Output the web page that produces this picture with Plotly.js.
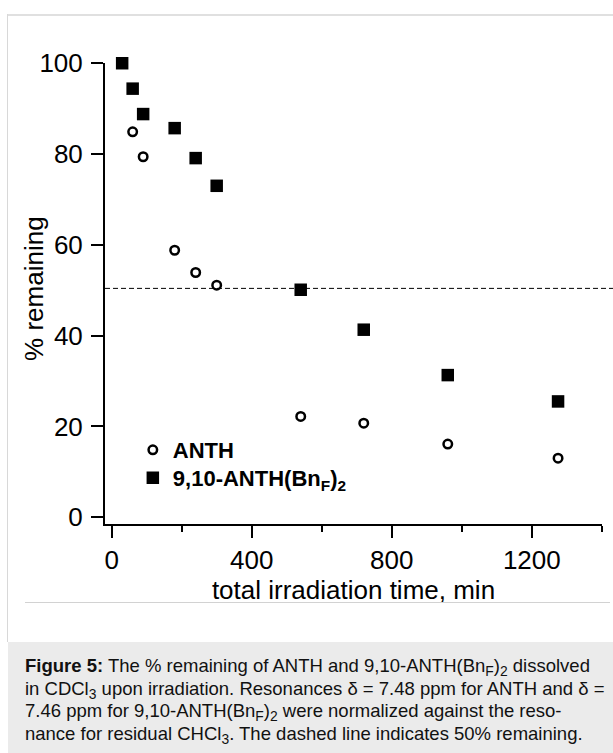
<!DOCTYPE html>
<html>
<head>
<meta charset="utf-8">
<script src="https://cdn.plot.ly/plotly-3.0.1.min.js"></script>
<style>
  html, body { margin: 0; padding: 0; background: #ffffff; }
  body { width: 613px; height: 753px; position: relative; overflow: hidden;
         font-family: "Liberation Sans", Arial, Helvetica, sans-serif; }
  #chart { position: absolute; left: 0; top: 0; width: 613px; height: 753px; }
  .frame-top { position: absolute; left: 7px; top: 14px; width: 620px; height: 0;
               border-top: 2px solid #e0e0e0; }
  .frame-left { position: absolute; left: 7px; top: 14px; width: 0; height: 628px;
                border-left: 1px solid #d8d8d8; }
  .sep { position: absolute; left: 25px; top: 602px; width: 585px; height: 0;
         border-top: 1px solid #d2d2d2; }
  .caption-box { position: absolute; left: 8px; top: 642px; width: 610px; height: 120px;
                 background: #ebebeb; }
  .caption { position: absolute; left: 25px; top: 655px; font-size: 18.5px;
             line-height: 22.5px; color: #111; white-space: nowrap; }
  .caption sub { font-size: 75%; vertical-align: -0.28em; line-height: 0; }
</style>
</head>
<body>
<div id="chart"></div>
<div class="frame-top"></div>
<div class="frame-left"></div>
<div class="sep"></div>
<div class="caption-box"></div>
<div class="caption"><b>Figure 5:</b> The % remaining of ANTH and 9,10-ANTH(Bn<sub>F</sub>)<sub>2</sub> dissolved<br>in CDCl<sub>3</sub> upon irradiation. Resonances δ = 7.48 ppm for ANTH and δ =<br>7.46 ppm for 9,10-ANTH(Bn<sub>F</sub>)<sub>2</sub> were normalized against the reso-<br>nance for residual CHCl<sub>3</sub>. The dashed line indicates 50% remaining.</div>
<script>
// ---- data ----
const anthTime = [60, 90, 180, 240, 300, 540, 720, 960, 1275];
const anthRemaining = [84.9, 79.4, 58.8, 53.9, 51.1, 22.2, 20.7, 16.1, 13.0];
const bnfTime = [30, 60, 90, 180, 240, 300, 540, 720, 960, 1275];
const bnfRemaining = [100, 94.4, 88.8, 85.7, 79.1, 73.0, 50.1, 41.3, 31.3, 25.5];
const seriesNames = ["ANTH", "9,10-ANTH(Bn<sub>F</sub>)<sub>2</sub>"];
const xTitle = "total irradiation time, min";
const yTitle = "% remaining";
const halfLevel = 50.4;
const xTickVals = [0, 400, 800, 1200];
const xTickText = ["0", "400", "800", "1200"];
const xMinorVals = [200, 600, 1000, 1400];
const yTickVals = [0, 20, 40, 60, 80, 100];
const yTickText = ["0", "20", "40", "60", "80", "100"];

const FONT = '"Liberation Sans", Arial, Helvetica, sans-serif';
const legendFont = { family: FONT, size: 22, color: '#000', weight: 'bold' };

const traces = [
  {
    x: anthTime, y: anthRemaining, name: seriesNames[0], legend: 'legend',
    type: 'scatter', mode: 'markers', cliponaxis: false,
    marker: { symbol: 'circle-open', size: 8.5, color: '#000', line: { width: 2.5, color: '#000' } }
  },
  {
    x: bnfTime, y: bnfRemaining, name: seriesNames[1], legend: 'legend2',
    type: 'scatter', mode: 'markers', cliponaxis: false,
    marker: { symbol: 'square', size: 12.5, color: '#000', line: { width: 0 } }
  }
];

const layout = {
  width: 613, height: 753,
  margin: { l: 105, r: 11, t: 63, b: 229, pad: 0 },
  paper_bgcolor: 'rgba(0,0,0,0)',
  plot_bgcolor: 'rgba(0,0,0,0)',
  font: { family: FONT, color: '#000', size: 26 },
  showlegend: true,
  legend: {
    x: 0.056, y: 0.1605, xanchor: 'left', yanchor: 'middle',
    bgcolor: 'rgba(0,0,0,0)', borderwidth: 0, font: legendFont
  },
  legend2: {
    x: 0.056, y: 0.0998, xanchor: 'left', yanchor: 'middle',
    bgcolor: 'rgba(0,0,0,0)', borderwidth: 0, font: legendFont
  },
  xaxis: {
    range: [-19, 1400.5], showgrid: false, zeroline: false,
    showline: true, linewidth: 2, linecolor: '#000',
    ticks: 'outside', ticklen: 12, tickwidth: 2, tickcolor: '#000',
    tickmode: 'array', tickvals: xTickVals, ticktext: xTickText,
    tickfont: { family: FONT, size: 26, color: '#000' },
    minor: { tickmode: 'array', tickvals: xMinorVals, ticks: 'outside', ticklen: 6, tickwidth: 2, tickcolor: '#000', showgrid: false },
    title: { text: xTitle, font: { family: FONT, size: 26, color: '#000' }, standoff: 4 }
  },
  yaxis: {
    range: [-1.5, 100.05], showgrid: false, zeroline: false,
    showline: true, linewidth: 2, linecolor: '#000',
    ticks: 'outside', ticklen: 12, tickwidth: 2, tickcolor: '#000',
    ticklabelstandoff: 3,
    tickmode: 'array', tickvals: yTickVals, ticktext: yTickText,
    tickfont: { family: FONT, size: 26, color: '#000' }
  },
  annotations: [
    { text: yTitle, xref: 'paper', yref: 'paper', x: -0.143, y: 0.512,
      xanchor: 'center', yanchor: 'middle', textangle: -90, showarrow: false,
      font: { family: FONT, size: 26, color: '#000' } }
  ],
  shapes: [
    { type: 'line', xref: 'paper', yref: 'y', x0: 0, x1: 1.03, y0: halfLevel, y1: halfLevel,
      line: { color: '#000', width: 1, dash: '5px,3px' } }
  ]
};

Plotly.newPlot('chart', traces, layout, { staticPlot: true, displayModeBar: false });
</script>
</body>
</html>
